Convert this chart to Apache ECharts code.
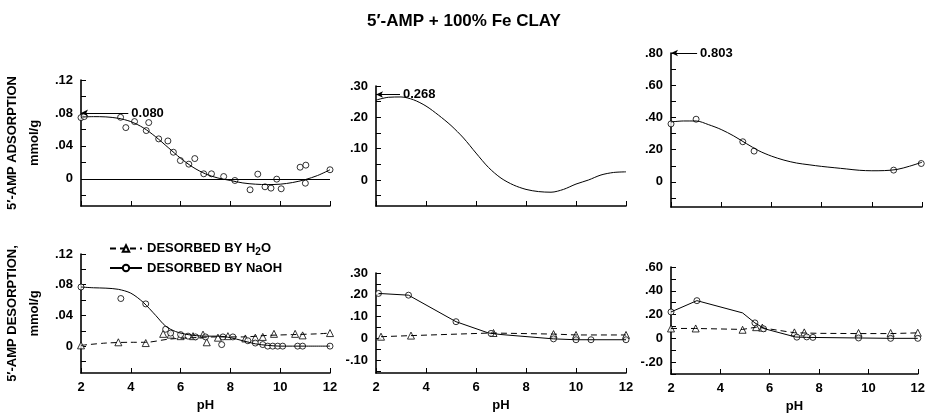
<!DOCTYPE html>
<html>
<head>
<meta charset="utf-8">
<script src="https://cdn.jsdelivr.net/npm/echarts@6/dist/echarts.min.js"></script>
<style>
    html, body { margin: 0; padding: 0; background: #fff; }
    #graph { width: 928px; height: 415px; }
</style>
</head>
<body>
<div id="graph"></div>
<script>
"use strict"

// top row: adsorption curves (fitted line) and measured points
const adsCurve1 = [[2.0, 0.075], [2.5, 0.0755], [3.0, 0.0752], [3.5, 0.0735], [4.0, 0.0695], [4.5, 0.062], [5.0, 0.051], [5.5, 0.038], [6.0, 0.025], [6.5, 0.014], [7.0, 0.006], [7.5, 0.001], [8.0, -0.002], [8.5, -0.005], [9.0, -0.0065], [9.5, -0.007], [10.0, -0.0065], [10.5, -0.0045], [11.0, -0.001], [11.5, 0.004], [12.0, 0.011]];
const adsPts1 = [[2.0, 0.0743], [2.13, 0.0756], [3.59, 0.0747], [3.8, 0.0622], [4.15, 0.0695], [4.62, 0.0586], [4.72, 0.0683], [5.12, 0.0485], [5.49, 0.046], [5.71, 0.0323], [5.99, 0.0222], [6.33, 0.0178], [6.57, 0.0246], [6.93, 0.0061], [7.24, 0.0061], [7.73, 0.0028], [8.18, -0.002], [8.79, -0.0133], [9.1, 0.0057], [9.39, -0.0097], [9.63, -0.0113], [9.86, -0.0004], [10.04, -0.0121], [10.8, 0.0141], [11.03, 0.0166], [11.01, -0.0053], [12.0, 0.011]];
const adsCurve2 = [[2.0, 0.255], [2.5, 0.264], [3.0, 0.265], [3.5, 0.256], [4.0, 0.236], [4.5, 0.207], [5.0, 0.174], [5.5, 0.134], [6.0, 0.086], [6.5, 0.040], [7.0, 0.006], [7.5, -0.016], [8.0, -0.030], [8.5, -0.037], [9.0, -0.039], [9.5, -0.030], [10.0, -0.013], [10.5, 0.0], [11.0, 0.016], [11.5, 0.024], [12.0, 0.026]];
const adsCurve3 = [[2.0, 0.372], [2.5, 0.378], [3.0, 0.378], [3.5, 0.355], [4.0, 0.325], [4.5, 0.285], [5.0, 0.238], [5.5, 0.193], [6.0, 0.160], [6.5, 0.135], [7.0, 0.117], [7.5, 0.106], [8.0, 0.096], [8.5, 0.088], [9.0, 0.080], [9.5, 0.072], [10.0, 0.069], [10.5, 0.070], [11.0, 0.077], [11.5, 0.097], [12.0, 0.122]];
const adsPts3 = [[2.0, 0.36], [3.0, 0.389], [4.86, 0.249], [5.31, 0.191], [10.87, 0.073], [11.97, 0.114]];

// max adsorption callouts: [value, label]
const maxAds = [[0.08, "0.080"], [0.273, "0.268"], [0.80, "0.803"]];

// bottom row: desorption by water (dashed) and by NaOH (solid)
const naohLine4 = [[2.0, 0.077], [2.5, 0.076], [3.0, 0.0755], [3.5, 0.074], [4.0, 0.069], [4.5, 0.057], [5.0, 0.04], [5.4, 0.026], [5.8, 0.019], [6.3, 0.015], [7.0, 0.013], [7.5, 0.013], [8.0, 0.011], [8.5, 0.007], [9.0, 0.003], [9.5, 0.001], [10.0, 0.0], [11.0, 0.0], [12.0, 0.0]];
const naohPts4 = [[2.0, 0.077], [3.6, 0.062], [4.6, 0.055], [5.4, 0.022], [5.6, 0.017], [6.0, 0.015], [6.3, 0.013], [6.6, 0.012], [7.0, 0.012], [7.65, 0.002], [7.7, 0.012], [8.1, 0.012], [8.7, 0.007], [9.0, 0.004], [9.3, 0.002], [9.5, 0.0], [9.7, 0.0], [9.9, 0.0], [10.1, 0.0], [10.7, 0.0], [10.9, 0.0], [12.0, 0.0]];
const h2oLine4 = [[2.0, 0.001], [3.0, 0.004], [4.0, 0.005], [4.6, 0.005], [5.5, 0.009], [6.5, 0.011], [7.5, 0.012], [8.5, 0.012], [9.5, 0.014], [10.5, 0.015], [11.5, 0.016], [12.0, 0.017]];
const h2oPts4 = [[2.0, 0.001], [3.5, 0.005], [4.6, 0.004], [5.3, 0.016], [5.6, 0.015], [6.0, 0.013], [6.5, 0.013], [6.9, 0.015], [7.05, 0.005], [7.5, 0.011], [7.9, 0.013], [8.6, 0.010], [9.0, 0.011], [9.3, 0.012], [9.75, 0.016], [10.6, 0.016], [10.9, 0.014], [12.0, 0.017]];

const naohLine5 = [[2.1, 0.206], [3.3, 0.198], [5.2, 0.076], [6.5, 0.024], [7.0, 0.017], [9.1, -0.003], [10.0, -0.007], [10.6, -0.007], [12.0, -0.007]];
const naohPts5 = [[2.1, 0.206], [3.3, 0.198], [5.2, 0.076], [6.6, 0.022], [9.1, -0.003], [10.0, -0.007], [10.6, -0.007], [12.0, -0.007]];
const h2oLine5 = [[2.2, 0.007], [3.4, 0.012], [6.6, 0.024], [9.1, 0.019], [10.0, 0.015], [12.0, 0.015]];
const h2oPts5 = [[2.2, 0.007], [3.4, 0.012], [6.7, 0.024], [9.1, 0.019], [10.0, 0.015], [12.0, 0.015]];

const naohLine6 = [[2.0, 0.222], [3.05, 0.317], [4.9, 0.214], [5.4, 0.13], [5.8, 0.08], [7.05, 0.011], [7.5, 0.008], [9.6, 0.003], [10.9, 0.0], [12.0, 0.0]];
const naohPts6 = [[2.0, 0.222], [3.05, 0.317], [5.4, 0.13], [5.75, 0.08], [7.1, 0.01], [7.5, 0.012], [7.75, 0.008], [9.6, 0.003], [10.9, 0.0], [12.0, 0.0]];
const h2oLine6 = [[2.0, 0.083], [3.0, 0.083], [4.9, 0.075], [5.45, 0.094], [5.8, 0.085], [7.0, 0.047], [8.0, 0.042], [9.6, 0.04], [10.9, 0.04], [12.0, 0.046]];
const h2oPts6 = [[2.0, 0.083], [3.0, 0.083], [4.9, 0.072], [5.45, 0.094], [5.7, 0.09], [7.0, 0.05], [7.4, 0.05], [9.6, 0.045], [10.9, 0.045], [12.0, 0.047]];

// y axis ranges, labelled values and tick values per panel
const yRanges = [[-0.033, 0.12], [-0.083, 0.30], [-0.156, 0.80], [-0.035, 0.12], [-0.16, 0.30], [-0.30, 0.60]];
const yLabels = [
    [0, 0.04, 0.08, 0.12],
    [0, 0.1, 0.2, 0.3],
    [0, 0.2, 0.4, 0.6, 0.8],
    [0, 0.04, 0.08, 0.12],
    [-0.1, 0, 0.1, 0.2, 0.3],
    [-0.2, 0, 0.2, 0.4, 0.6]
];
const yTicks = [
    [-0.02, 0, 0.02, 0.04, 0.06, 0.08, 0.1, 0.12],
    [-0.05, 0, 0.05, 0.1, 0.15, 0.2, 0.25, 0.3],
    [-0.1, 0, 0.1, 0.2, 0.3, 0.4, 0.5, 0.6, 0.7, 0.8],
    [-0.02, 0, 0.02, 0.04, 0.06, 0.08, 0.1, 0.12],
    [-0.15, -0.1, -0.05, 0, 0.05, 0.1, 0.15, 0.2, 0.25, 0.3],
    [-0.3, -0.2, -0.1, 0, 0.1, 0.2, 0.3, 0.4, 0.5, 0.6]
];
const xMin = 2, xMax = 12, xStep = 2;

const H2O = "DESORBED BY H2O", NAOH = "DESORBED BY NaOH";
const FONT = "Liberation Sans, Arial, Helvetica, sans-serif";

const grids = [
    { left: 80, top: 80, width: 250, height: 126 },
    { left: 376, top: 86, width: 250, height: 120 },
    { left: 671, top: 53, width: 251, height: 154 },
    { left: 80, top: 254, width: 250, height: 119 },
    { left: 376, top: 273, width: 250, height: 100 },
    { left: 671, top: 267, width: 251, height: 107 }
];

const fmtY = v => v === 0 ? "0" : (v < 0 ? "-" : "") + Math.abs(v).toFixed(2).slice(1);
const blk = { color: "#000", width: 1.6 };

const xAxes = grids.map((g, i) => ({
    type: "value", gridIndex: i, min: xMin, max: xMax, interval: xStep,
    axisLine: { onZero: false, lineStyle: blk },
    axisTick: { inside: true, length: 5, lineStyle: { color: "#000", width: 1 } },
    splitLine: { show: false },
    axisLabel: { show: i >= 3, color: "#000", fontFamily: FONT, fontWeight: "bold", fontSize: 13, margin: 8 },
    name: i >= 3 ? "pH" : "", nameLocation: "middle", nameGap: 26,
    nameTextStyle: { color: "#000", fontFamily: FONT, fontWeight: "bold", fontSize: 13 }
}));

const yAxes = grids.map((g, i) => ({
    type: "value", gridIndex: i, min: yRanges[i][0], max: yRanges[i][1],
    axisLine: { onZero: false, lineStyle: blk },
    axisTick: { inside: true, length: 5, customValues: yTicks[i], lineStyle: { color: "#000", width: 1 } },
    splitLine: { show: false },
    axisLabel: { customValues: yLabels[i], formatter: fmtY, color: "#000", fontFamily: FONT, fontWeight: "bold", fontSize: 13, margin: 8 },
    name: i == 0 ? "5\u2032-AMP ADSORPTION\nmmol/g" : i == 3 ? "5\u2032-AMP DESORPTION,\nmmol/g" : "",
    nameLocation: "middle", nameRotate: 90, nameGap: 36,
    nameTextStyle: { color: "#000", fontFamily: FONT, fontWeight: "bold", fontSize: 13, lineHeight: 22 }
}));

function curve(idx, data, dashed, name)
{
    return {
        type: "line", name: name, xAxisIndex: idx, yAxisIndex: idx, data: data,
        smooth: 0.3, symbol: name == H2O ? "triangle" : "circle", symbolSize: 7, showSymbol: false,
        silent: true,
        lineStyle: { color: "#000", width: 1, type: dashed ? [6, 4] : "solid" },
        itemStyle: { color: "#fff", borderColor: "#000", borderWidth: 1 }
    };
}
function points(idx, data, tri)
{
    return {
        type: "scatter", name: "pts" + idx, xAxisIndex: idx, yAxisIndex: idx, data: data,
        symbol: tri ? "triangle" : "circle", symbolSize: tri ? 7 : 6, silent: true,
        itemStyle: { color: "#fff", borderColor: "#000", borderWidth: 1 }
    };
}
function callout(idx, data, lineEnd)
{
    const s = curve(idx, data, false, "ads" + idx);
    s.markLine = {
        silent: true, symbol: ["arrow", "none"], symbolSize: [5, 7], animation: false,
        lineStyle: { color: "#000", type: "solid", width: 1 },
        label: { show: true, position: "end", distance: 3, formatter: maxAds[idx][1], color: "#000", fontFamily: FONT, fontWeight: "bold", fontSize: 13 },
        data: [[{ coord: [xMin, maxAds[idx][0]] }, { coord: [lineEnd, maxAds[idx][0]] }]]
    };
    return s;
}

const zero1 = points(0, adsPts1, false);
zero1.markLine = {
    silent: true, symbol: "none", animation: false, label: { show: false },
    lineStyle: { color: "#000", type: "solid", width: 1 },
    data: [{ yAxis: 0 }]
};

const series = [
    callout(0, adsCurve1, 3.9), zero1,
    callout(1, adsCurve2, 2.96),
    callout(2, adsCurve3, 3.04), points(2, adsPts3, false),
    curve(3, h2oLine4, true, H2O), points(3, h2oPts4, true),
    curve(3, naohLine4, false, NAOH), points(3, naohPts4, false),
    curve(4, h2oLine5, true, "h2o5"), points(4, h2oPts5, true),
    curve(4, naohLine5, false, "naoh5"), points(4, naohPts5, false),
    curve(5, h2oLine6, true, "h2o6"), points(5, h2oPts6, true),
    curve(5, naohLine6, false, "naoh6"), points(5, naohPts6, false)
];
[9, 11, 13, 15].forEach(k => series[k].smooth = false);

const myChart = echarts.init(document.getElementById("graph"), null, { renderer: "canvas" });
myChart.setOption({
    animation: false,
    backgroundColor: "#fff",
    title: {
        text: "5\u2032-AMP + 100% Fe CLAY", left: "center", top: 8,
        textStyle: { color: "#000", fontFamily: FONT, fontWeight: "bold", fontSize: 17 }
    },
    legend: {
        data: [H2O, NAOH], orient: "vertical", left: 104, top: 237,
        itemWidth: 32, itemHeight: 8, itemGap: 4, selectedMode: false,
        formatter: name => name == H2O ? "{t|DESORBED BY H}{s|2}{t|O}" : "{t|" + name + "}",
        textStyle: {
            color: "#000", fontFamily: FONT, fontWeight: "bold", fontSize: 13,
            rich: {
                t: { fontFamily: FONT, fontWeight: "bold", fontSize: 13, color: "#000" },
                s: { fontFamily: FONT, fontWeight: "bold", fontSize: 10, color: "#000", padding: [8, 0, 0, 0] }
            }
        }
    },
    grid: grids,
    xAxis: xAxes,
    yAxis: yAxes,
    series: series
});
</script>
</body>
</html>
